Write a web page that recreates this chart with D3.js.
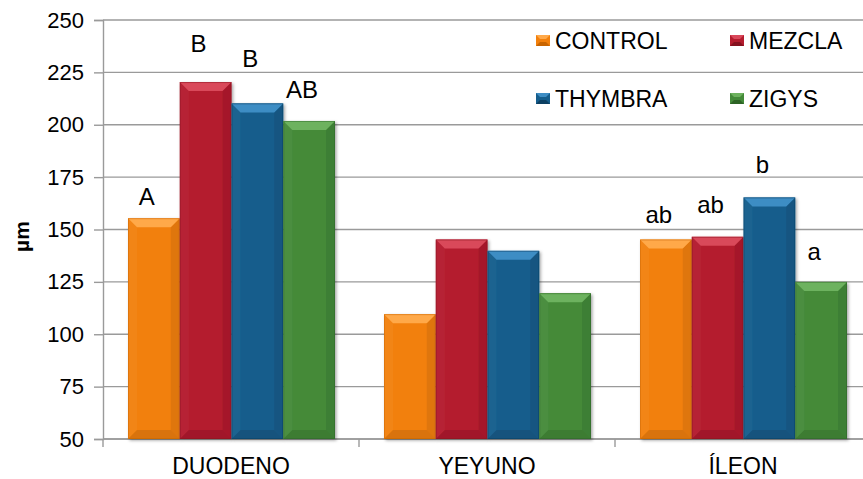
<!DOCTYPE html>
<html><head><meta charset="utf-8">
<script src="https://cdn.jsdelivr.net/npm/d3@7"></script>
<style>
html,body{margin:0;padding:0;background:#fff;}
svg{display:block;font-family:"Liberation Sans",Arial,sans-serif;}
</style></head>
<body>
<svg id="chart" width="863" height="479"></svg>
<script>
// ---- data ----
const categories = ["DUODENO", "YEYUNO", "ÍLEON"];
const seriesNames = ["CONTROL", "MEZCLA", "THYMBRA", "ZIGYS"];
const controlValues = [155.4, 109.6, 145.2];
const mezclaValues  = [220.4, 145.2, 146.5];
const thymbraValues = [210.2, 139.8, 165.3];
const zigysValues   = [201.8, 119.6, 125.0];
// significance letters and the value level of each letter's baseline
const controlLetters = ["A", "", "ab"];
const mezclaLetters  = ["B", "", "ab"];
const thymbraLetters = ["B", "", "b"];
const zigysLetters   = ["AB", "", "a"];
const controlLetterAt = [161.7, null, 153.1];
const mezclaLetterAt  = [234.9, null, 158.0];
const thymbraLetterAt = [227.7, null, 177.0];
const zigysLetterAt   = [212.8, null, 135.4];
const yTicks = [50, 75, 100, 125, 150, 175, 200, 225, 250];
const yTitle = "µm";

const seriesValues = [controlValues, mezclaValues, thymbraValues, zigysValues];
const seriesLetters = [controlLetters, mezclaLetters, thymbraLetters, zigysLetters];
const seriesLetterAt = [controlLetterAt, mezclaLetterAt, thymbraLetterAt, zigysLetterAt];

const palette = {
  CONTROL: {base:"#F2800C", light:"#FFA94A", dark:"#C86400"},
  MEZCLA:  {base:"#B41C2E", light:"#D9485A", dark:"#85111F"},
  THYMBRA: {base:"#155D8C", light:"#3E8DC4", dark:"#0C3F62"},
  ZIGYS:   {base:"#448A39", light:"#6DB25E", dark:"#2D6325"}
};

const svg = d3.select("#chart");
const plot = {left:103, right:871, top:20, bottom:439};

const y = d3.scaleLinear().domain([50, 250]).range([plot.bottom, plot.top]);
const x0 = d3.scaleBand().domain(categories).range([plot.left, plot.right]).padding(0);
const x1 = d3.scaleBand().domain(seriesNames).range([25, x0.bandwidth() - 24]).padding(0);

const defs = svg.append("defs");
const f = defs.append("filter").attr("id","shadow").attr("x","-20%").attr("y","-20%").attr("width","150%").attr("height","150%");
f.append("feDropShadow").attr("dx",1.5).attr("dy",1.5).attr("stdDeviation",1.5).attr("flood-color","#000").attr("flood-opacity",0.35);

// gridlines
svg.append("g").selectAll("line").data(yTicks).join("line")
  .attr("x1", plot.left).attr("x2", plot.right)
  .attr("y1", d => y(d)).attr("y2", d => y(d))
  .attr("stroke", "#9a9a9a").attr("stroke-width", 1.4);

// y axis
const yAxis = svg.append("g").attr("transform", `translate(${plot.left},0)`)
  .call(d3.axisLeft(y).tickValues(yTicks).tickSize(9).tickPadding(10));
yAxis.select(".domain").attr("stroke", "#9a9a9a").attr("stroke-width", 1.4);
yAxis.selectAll(".tick line").attr("stroke", "#9a9a9a").attr("stroke-width", 1.4);
yAxis.selectAll(".tick text").attr("font-size", 22).attr("fill", "#000")
  .attr("font-family", "Liberation Sans, Arial, sans-serif");

// x axis
const xAxisG = svg.append("g").attr("transform", `translate(0,${plot.bottom})`);
xAxisG.append("line").attr("x1", plot.left).attr("x2", plot.right)
  .attr("stroke", "#9a9a9a").attr("stroke-width", 1.4);
const boundaries = categories.map(c => x0(c)).concat([x0(categories[categories.length-1]) + x0.bandwidth()]);
xAxisG.selectAll("line.tk").data(boundaries).join("line").attr("class","tk")
  .attr("x1", d => d).attr("x2", d => d).attr("y1", 0).attr("y2", 8)
  .attr("stroke", "#9a9a9a").attr("stroke-width", 1.4);
xAxisG.selectAll("text").data(categories).join("text")
  .attr("x", d => x0(d) + x0.bandwidth()/2).attr("y", 35)
  .attr("text-anchor", "middle").attr("font-size", 23).attr("fill", "#000")
  .text(d => d);

// y title
svg.append("text").attr("transform", `translate(29,${(plot.top+plot.bottom)/2 + 7}) rotate(-90)`)
  .attr("text-anchor", "middle").attr("font-size", 21).attr("font-weight", "bold").text(yTitle);

// bars
const barData = [];
categories.forEach((c, ci) => {
  seriesNames.forEach((s, si) => {
    barData.push({cat:c, series:s, value:seriesValues[si][ci], letter:seriesLetters[si][ci], letterAt:seriesLetterAt[si][ci]});
  });
});

const bars = svg.append("g").selectAll("g").data(barData).join("g")
  .attr("filter", "url(#shadow)");
bars.each(function(d) {
  const g = d3.select(this);
  const bx = x0(d.cat) + x1(d.series), w = x1.bandwidth();
  const yt = y(d.value), yb = y(50);
  const c = palette[d.series];
  const b = 9;
  g.append("rect").attr("x", bx).attr("y", yt).attr("width", w).attr("height", yb - yt).attr("fill", c.base);
  g.append("polygon").attr("points", [[bx,yt],[bx+b,yt+b],[bx+b,yb-b],[bx,yb]].join(" "))
    .attr("fill", "#fff").attr("opacity", 0.04);
  g.append("polygon").attr("points", [[bx+w,yt],[bx+w-b,yt+b],[bx+w-b,yb-b],[bx+w,yb]].join(" "))
    .attr("fill", "#000").attr("opacity", 0.08);
  g.append("polygon").attr("points", [[bx,yb],[bx+b,yb-b],[bx+w-b,yb-b],[bx+w,yb]].join(" "))
    .attr("fill", "#000").attr("opacity", 0.1);
  g.append("polygon").attr("points", [[bx,yt],[bx+w,yt],[bx+w-b,yt+b],[bx+b,yt+b]].join(" "))
    .attr("fill", c.light);
  g.append("rect").attr("x", bx+0.5).attr("y", yt+0.5).attr("width", w-1).attr("height", yb-yt-1)
    .attr("fill", "none").attr("stroke", c.dark).attr("stroke-opacity", 0.45).attr("stroke-width", 1);
});

// letters
svg.append("g").selectAll("text").data(barData.filter(d => d.letter)).join("text")
  .attr("x", d => x0(d.cat) + x1(d.series) + x1.bandwidth()/2 - 7)
  .attr("y", d => y(d.letterAt))
  .attr("text-anchor", "middle").attr("font-size", 24).attr("fill", "#000")
  .text(d => d.letter);

// legend
const legendPos = [[536, 40.5], [730, 40.5], [536, 98.5], [730, 98.5]];
const lg = svg.append("g").selectAll("g").data(seriesNames).join("g")
  .attr("transform", (d, i) => `translate(${legendPos[i][0]},${legendPos[i][1]})`);
lg.each(function(d) {
  const g = d3.select(this), c = palette[d];
  const w = 14, h = 11, x = 0, yy = -5.5, b = 4;
  g.append("rect").attr("x", x).attr("y", yy).attr("width", w).attr("height", h).attr("fill", c.base);
  g.append("polygon").attr("points", [[x,yy],[x+w,yy],[x+w-b,yy+b],[x+b,yy+b]].join(" ")).attr("fill", c.light);
  g.append("polygon").attr("points", [[x,yy+h],[x+w,yy+h],[x+w-b,yy+h-b],[x+b,yy+h-b]].join(" ")).attr("fill", c.dark);
});
lg.append("text").attr("x", 19).attr("y", 0).attr("dy", "0.36em")
  .attr("font-size", 23).attr("fill", "#000").text(d => d);
</script>
</body></html>
